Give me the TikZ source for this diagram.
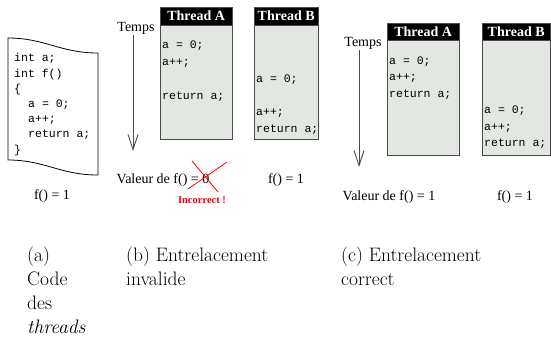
\documentclass[tikz,border=0pt]{standalone}
\usepackage{fontspec}
\setmainfont{Latin Modern Roman}
\newfontfamily\timesfont{Liberation Serif}
\newfontfamily\codefont{Liberation Mono}
\usetikzlibrary{arrows.meta}
\definecolor{boxfill}{HTML}{E3E7E1}
\definecolor{boxline}{HTML}{4A4A4A}
\tikzset{
  codeline/.style={anchor=west, inner sep=0pt, font=\codefont\fontsize{11.5}{13}\selectfont, text height=8pt, text depth=2pt},
  label/.style={inner sep=0pt, font=\timesfont\fontsize{14}{16}\selectfont},
  header/.style={fill=black, draw=boxline, text=white, inner sep=0pt, font=\timesfont\bfseries\fontsize{14}{16}\selectfont},
  body/.style={fill=boxfill, draw=boxline, line width=0.9pt},
  timearrow/.style={draw=black!70, line width=0.9pt, -{Straight Barb[length=15pt,width=10pt,line width=0.9pt]}},
  caption/.style={anchor=north west, align=left, inner sep=0pt, font=\fontsize{19.5}{24}\selectfont},
  cross/.style={draw=red, line width=0.8pt}
}
% thread column: name, left, top, width, header height, total height
\newcommand{\threadcol}[7]{%
  \draw[body] (#2,#3) rectangle ++(#4,#6);
  \node[header, minimum width=#4pt, minimum height=#5pt, anchor=north west] (#1) at (#2,#3) {#7};
}
\begin{document}
\begin{tikzpicture}[x=1pt,y=-1pt]
\useasboundingbox (0,0) rectangle (551,343);

% ---------- (a) source code on a sheet ----------
\draw[line width=0.8pt, fill=white] (8,38) .. controls (45,38) and (60,53) .. (98,53)
  -- (98,175) .. controls (60,175) and (45,160) .. (8,160) -- cycle;
\node[codeline] (a1) at (14,58) {int a;};
\node[codeline] (a2) at (14,74) {int f()};
\node[codeline] (a3) at (14,89) {\{};
\node[codeline] (a4) at (28,104) {a = 0;};
\node[codeline] (a5) at (28,119) {a++;};
\node[codeline] (a6) at (28,134) {return a;};
\node[codeline] (a7) at (14,150) {\}};
\node[label] (fa) at (52,196) {f() = 1};

% ---------- (b) invalid interleaving ----------
\node[label] (tb) at (136,28) {Temps};
\coordinate (tbs) at (133,35);
\coordinate (tbe) at (133,151);
\draw[timearrow] (tbs) -- (tbe);

\threadcol{bA}{160}{7}{72}{18}{132}{Thread A}
\node[codeline] (bA1) at (162,45) {a = 0;};
\node[codeline] (bA2) at (162,62) {a++;};
\node[codeline] (bA3) at (162,96) {return a;};

\threadcol{bB}{254}{7}{64}{18}{132}{Thread B}
\node[codeline] (bB1) at (256,79) {a = 0;};
\node[codeline] (bB2) at (256,112) {a++;};
\node[codeline] (bB3) at (256,129) {return a;};

\node[label] (vb) at (163,180) {Valeur de f() = 0};
\coordinate (x1) at (188,189);
\coordinate (x2) at (227,162);
\coordinate (x3) at (192,161);
\coordinate (x4) at (218,192);
\draw[cross] (x1) -- (x2);
\draw[cross] (x3) -- (x4);
\node[inner sep=0pt, text=red, font=\timesfont\bfseries\fontsize{10.5}{12}\selectfont] (inc) at (202,200) {Incorrect !};
\node[label] (fb) at (286,180) {f() = 1};

% ---------- (c) correct interleaving ----------
\node[label] (tc) at (363,43) {Temps};
\coordinate (tcs) at (359,50);
\coordinate (tce) at (359,167);
\draw[timearrow] (tcs) -- (tce);

\threadcol{cA}{387}{23}{72}{17}{132}{Thread A}
\node[codeline] (cA1) at (389,61) {a = 0;};
\node[codeline] (cA2) at (389,77) {a++;};
\node[codeline] (cA3) at (389,94) {return a;};

\threadcol{cB}{482}{23}{68}{17}{132}{Thread B}
\node[codeline] (cB1) at (484,110) {a = 0;};
\node[codeline] (cB2) at (484,127) {a++;};
\node[codeline] (cB3) at (484,143) {return a;};

\node[label] (vc) at (389,197) {Valeur de f() = 1};
\node[label] (fc) at (515,197) {f() = 1};

% ---------- captions ----------
\node[caption] (capa) at (27,247) {(a)\\Code\\des\\\textit{threads}};
\node[caption] (capb) at (126,247) {(b) Entrelacement\\invalide};
\node[caption] (capc) at (341,247) {(c) Entrelacement\\correct};
\end{tikzpicture}
\end{document}
